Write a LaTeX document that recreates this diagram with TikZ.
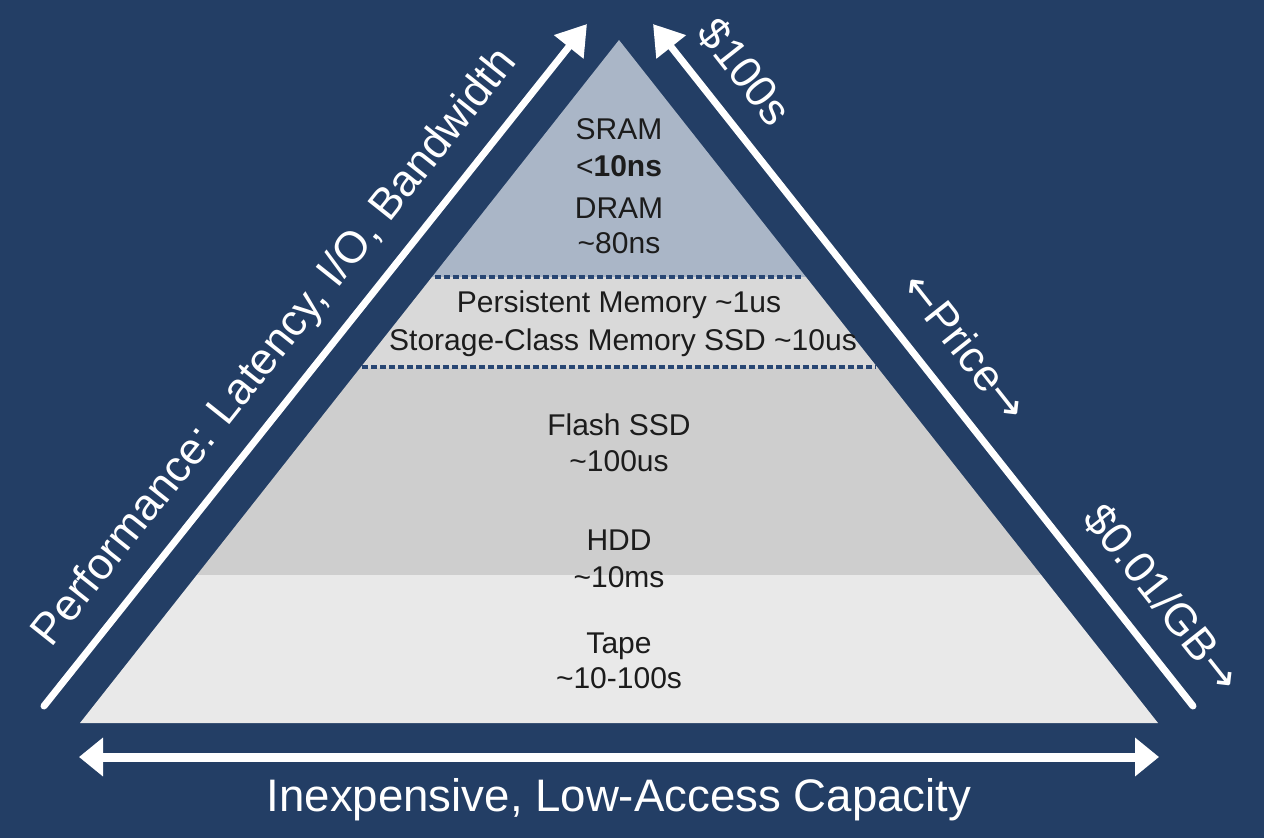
\documentclass[tikz,border=0pt]{standalone}
\usepackage{fontspec}
\setmainfont{Liberation Sans}
\newfontfamily\arrowfont{DejaVu Sans}
\usetikzlibrary{arrows.meta}
\definecolor{bg}{RGB}{35,62,101}
\definecolor{bandA}{RGB}{170,182,199}
\definecolor{bandB}{RGB}{217,217,217}
\definecolor{bandC}{RGB}{206,206,206}
\definecolor{bandD}{RGB}{233,233,233}
\definecolor{txt}{RGB}{28,28,28}
\definecolor{dotc}{RGB}{40,70,115}
\newcommand{\arw}[1]{{\arrowfont\fontsize{33}{36}\selectfont #1}}
\tikzset{
  pyr/.style={text=txt,anchor=base,font=\fontsize{22.5}{27}\selectfont,inner sep=0pt},
  big/.style={text=white,font=\fontsize{33.2}{40}\selectfont,inner sep=0pt},
  axis/.style={draw=white,line width=5.25pt,line cap=round,-{Triangle[length=22pt,width=27pt]}},
  baseaxis/.style={draw=white,line width=6.75pt,{Triangle[length=18pt,width=28pt]}-{Triangle[length=18pt,width=28pt]}},
  sep/.style={draw=dotc,line width=3pt,dash pattern=on 4.5pt off 2.25pt}
}
\begin{document}
\begin{tikzpicture}[x=0.75pt,y=-0.75pt]
\fill[bg] (0,0) rectangle (1264,838);
\useasboundingbox (0,0) rectangle (1264,838);
% pyramid bands
\coordinate (apex) at (619,40);
\coordinate (bl) at (80,723);
\coordinate (br) at (1158,723);
\coordinate (l1) at (432,277);  \coordinate (r1) at (806,277);
\coordinate (l2) at (360.1,368); \coordinate (r2) at (877.9,368);
\coordinate (l3) at (196.8,575); \coordinate (r3) at (1041.2,575);
\fill[bandA] (apex) -- (r1) -- (l1) -- cycle;
\fill[bandB] (l1) -- (r1) -- (r2) -- (l2) -- cycle;
\fill[bandC] (l2) -- (r2) -- (r3) -- (l3) -- cycle;
\fill[bandD] (l3) -- (r3) -- (br) -- (bl) -- cycle;
% separators
\coordinate (s1a) at (435,277); \coordinate (s1b) at (801,277);
\coordinate (s2a) at (362,367); \coordinate (s2b) at (876,367);
\draw[sep] (s1a) -- (s1b);
\draw[sep] (s2a) -- (s2b);
% texts in pyramid
\node[pyr] (sram) at (619,140) {SRAM};
\node[pyr] (sramt) at (619,177) {<\textbf{10ns}};
\node[pyr] (dram) at (619,219) {DRAM};
\node[pyr] (dramt) at (619,253) {\textasciitilde80ns};
\node[pyr] (pm) at (619,312) {Persistent Memory \textasciitilde1us};
\node[pyr] (scm) at (623,350) {Storage-Class Memory SSD \textasciitilde10us};
\node[pyr] (flash) at (619,435) {Flash SSD};
\node[pyr] (flasht) at (619,471) {\textasciitilde100us};
\node[pyr] (hdd) at (619,550) {HDD};
\node[pyr] (hddt) at (619,587) {\textasciitilde10ms};
\node[pyr] (tape) at (619,653) {Tape};
\node[pyr] (tapet) at (619,688) {\textasciitilde10-100s};
% axes
\coordinate (la) at (44,706);
\coordinate (lb) at (587,24);
\coordinate (ra) at (1193,706);
\coordinate (rb) at (653,24);
\coordinate (ba) at (79,757);
\coordinate (bb) at (1159,757);
\draw[axis] (la) -- (lb);
\draw[axis] (ra) -- (rb);
\draw[baseaxis] (ba) -- (bb);
% axis labels
\node[big,rotate=51.5] (perf) at (276,348) {Performance: Latency, I/O, Bandwidth};
\node[big,rotate=-51.7] (hi) at (745,72) {\$100s};
\node[big,rotate=-51.7] (price) at (966,346) {\arw{←}Price\arw{→}};
\node[big,rotate=-51.7] (lo) at (1163,598) {\$0.01/GB\arw{→}};
\node[big,font=\fontsize{34.2}{40}\selectfont] (cap) at (619,800) {Inexpensive, Low-Access Capacity};
\end{tikzpicture}
\end{document}
